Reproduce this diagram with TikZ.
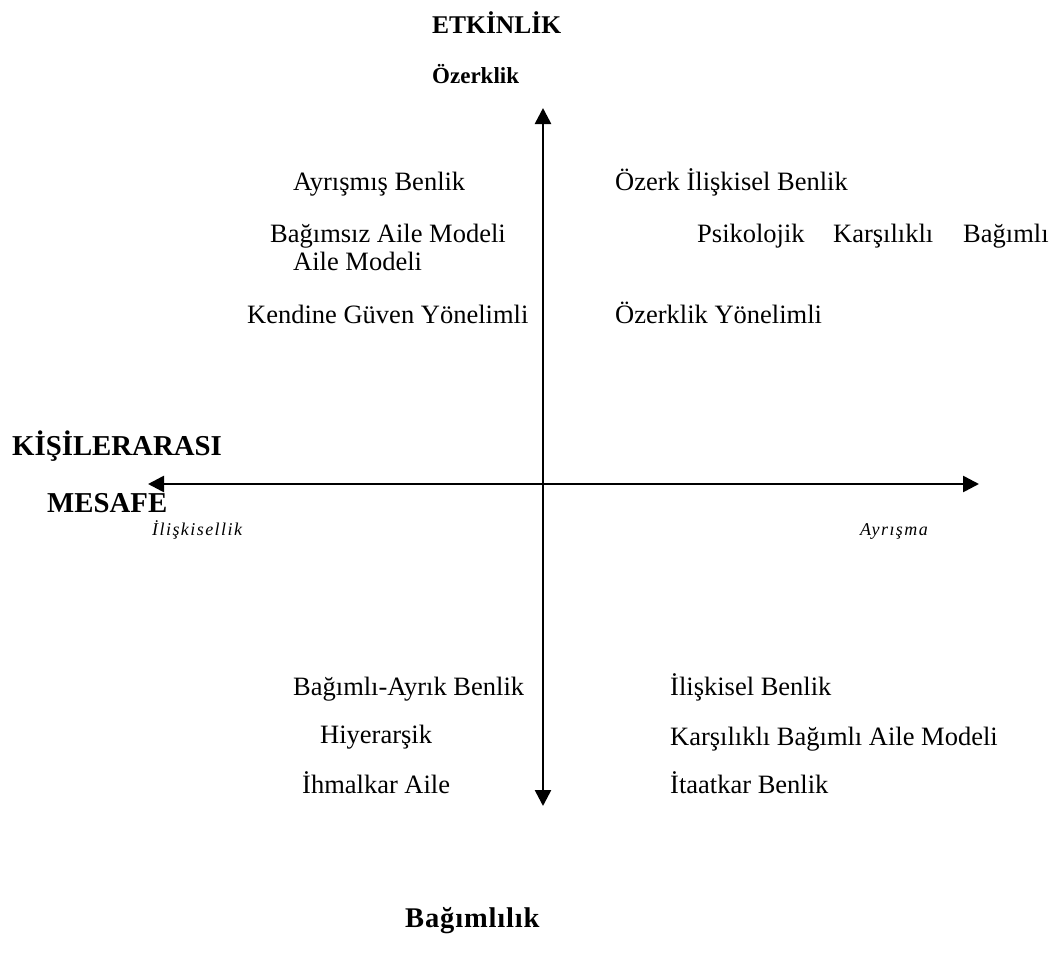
\documentclass[tikz,border=0pt]{standalone}
\usepackage{fontspec}
\setmainfont{Liberation Serif}
\newfontfamily\spacedserif[LetterSpace=8]{Liberation Serif}
\newfontfamily\widebold[LetterSpace=3]{Liberation Serif}
\usetikzlibrary{arrows.meta}
\tikzset{
  lbl/.style={anchor=base west,inner sep=0pt,font=\fontsize{26.5}{30}\selectfont},
  bighead/.style={anchor=base west,inner sep=0pt,font=\fontsize{28.8}{32}\selectfont\bfseries},
  midhead/.style={anchor=base west,inner sep=0pt,font=\fontsize{25.5}{30}\selectfont\bfseries},
  smallhead/.style={anchor=base west,inner sep=0pt,font=\fontsize{23}{27}\selectfont\bfseries},
  widehead/.style={anchor=base west,inner sep=0pt,font=\widebold\fontsize{28.5}{32}\selectfont\bfseries},
  axislbl/.style={anchor=base west,inner sep=0pt,font=\spacedserif\fontsize{18}{21}\selectfont\itshape},
  axis/.style={line width=2.6pt,{Triangle[length=16pt,width=16pt]}-{Triangle[length=16pt,width=16pt]}}
}
\begin{document}
\begin{tikzpicture}[x=1pt,y=-1pt]
\useasboundingbox (0,0) rectangle (1057,961);
\coordinate (top) at (543,108);
\coordinate (bot) at (543,806);
\coordinate (lft) at (148,484);
\coordinate (rgt) at (979,484);
\draw[axis] (top) -- (bot);
\draw[axis] (lft) -- (rgt);
\node[midhead] (etk) at (432,33) {ETKİNLİK};
\node[smallhead] (oz) at (432,83) {Özerklik};
\node[bighead] (kis) at (12,455) {KİŞİLERARASI};
\node[bighead] (mes) at (47,512) {MESAFE};
\node[axislbl] (ilis) at (152,535) {İlişkisellik};
\node[axislbl] (ayr) at (860,535) {Ayrışma};
\node[widehead] (bag) at (405,927) {Bağımlılık};
\node[lbl] (a1) at (293,190) {Ayrışmış Benlik};
\node[lbl] (a2) at (270,242) {Bağımsız Aile Modeli};
\node[lbl] (a3) at (293,270) {Aile Modeli};
\node[lbl] (a4) at (247,323) {Kendine Güven Yönelimli};
\node[lbl] (b1) at (615,190) {Özerk İlişkisel Benlik};
\node[lbl] (b2) at (697,242) {Psikolojik};
\node[lbl] (b3) at (833,242) {Karşılıklı};
\node[lbl] (b4) at (963,242) {Bağımlı};
\node[lbl] (b5) at (615,323) {Özerklik Yönelimli};
\node[lbl] (c1) at (293,695) {Bağımlı-Ayrık Benlik};
\node[lbl] (c2) at (320,743) {Hiyerarşik};
\node[lbl] (c3) at (302,793) {İhmalkar Aile};
\node[lbl] (d1) at (670,695) {İlişkisel Benlik};
\node[lbl] (d2) at (670,745) {Karşılıklı Bağımlı Aile Modeli};
\node[lbl] (d3) at (670,793) {İtaatkar Benlik};
\end{tikzpicture}
\end{document}
